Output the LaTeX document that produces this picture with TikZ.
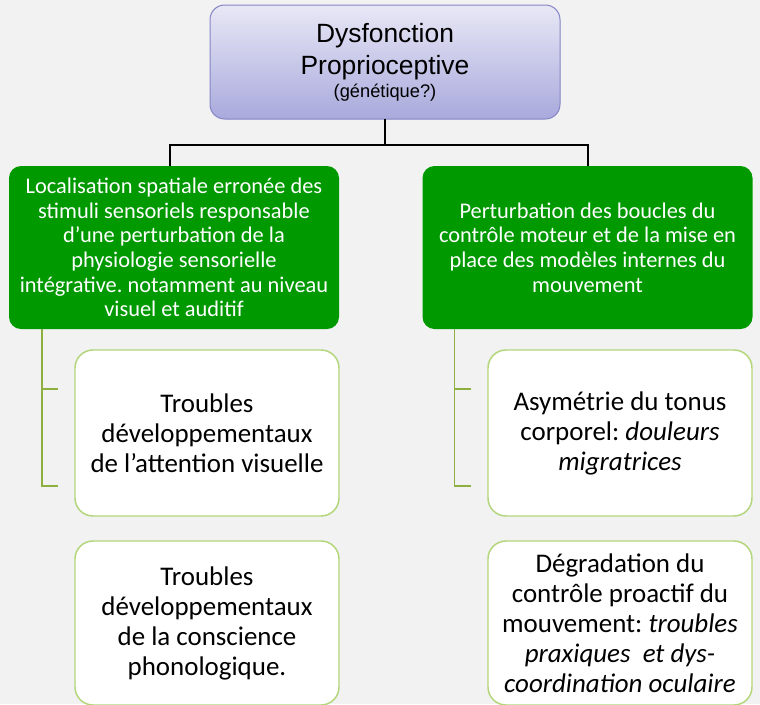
\documentclass[tikz,border=0pt]{standalone}
\usepackage{fontspec}
\setmainfont{Carlito}
\newfontfamily\rootfont{Liberation Sans}
\usetikzlibrary{positioning}
\frenchspacing

\definecolor{bgcol}{HTML}{F2F2F2}
\definecolor{roottop}{HTML}{E8E8F6}
\definecolor{rootbot}{HTML}{A9A9DD}
\definecolor{rootedge}{HTML}{8585C6}
\definecolor{causegreen}{HTML}{009900}
\definecolor{effectedge}{HTML}{B3D67A}
\definecolor{branchline}{HTML}{8DB040}

\begin{document}
\begin{tikzpicture}[x=0.75pt,y=-0.75pt,
  rootbox/.style={rectangle, rounded corners=11pt, draw=rootedge, line width=0.75pt, top color=roottop, bottom color=rootbot, minimum width=262.5pt, minimum height=85.5pt, inner sep=0pt, outer sep=0pt, align=center, font=\rootfont\fontsize{19.8}{24}\selectfont},
  causebox/.style={rectangle, rounded corners=9pt, fill=causegreen, text=white, minimum width=247.5pt, minimum height=122.25pt, inner sep=0pt, outer sep=0pt, align=center, font=\fontsize{16.8}{18.4}\selectfont},
  effectbox/.style={rectangle, rounded corners=13.5pt, draw=effectedge, line width=1.1pt, fill=white, minimum width=198pt, minimum height=124.5pt, inner sep=0pt, outer sep=0pt, align=center, font=\fontsize{20.2}{22.5}\selectfont},
  trunk/.style={draw=black, line width=1.5pt},
  branch/.style={draw=branchline, line width=0.9pt}]
\useasboundingbox[fill=bgcol] (0,0) rectangle (760,704);

\node[rootbox] (root) at (385,62) {Dysfonction\\Proprioceptive\\[-6.75pt]{\fontsize{13.7}{16}\selectfont(génétique?)}};

\node[causebox] (spatial) at (174,247.5) {Localisation spatiale erronée des\\stimuli sensoriels responsable\\d’une perturbation de la\\physiologie sensorielle\\intégrative. notamment au niveau\\visuel et auditif};
\node[causebox] (motor) at (587.5,247.5) {Perturbation des boucles du\\contrôle moteur et de la mise en\\place des modèles internes du\\mouvement};

\node[effectbox] (attention) at (207,433) {Troubles\\développementaux\\de l’attention visuelle};
\node[effectbox, minimum height=123pt, below=18.75pt of attention] (phono) {Troubles\\développementaux\\de la conscience\\phonologique.};
\node[effectbox] (tonus) at (620,433) {Asymétrie du tonus\\corporel: \textit{douleurs}\\\textit{migratrices}};
\node[effectbox, minimum height=123pt, below=18.75pt of tonus] (proactif) {Dégradation du\\contrôle proactif du\\mouvement: \textit{troubles}\\\textit{praxiques\ \ et dys-}\\\textit{coordination oculaire}};

\draw[trunk] (root.south) -- ++(0,26) -| ([xshift=-3pt]spatial.north);
\draw[trunk] (root.south) -- ++(0,26) -| (motor.north);

\coordinate (spatialA) at (58,389);
\coordinate (spatialB) at (58,486);
\coordinate (motorA) at (471,389);
\coordinate (motorB) at (471,486);
\draw[branch] ([xshift=24.75pt]spatial.south west) |- (spatialA);
\draw[branch] ([xshift=24.75pt]spatial.south west) |- (spatialB);
\draw[branch] ([xshift=24pt]motor.south west) |- (motorA);
\draw[branch] ([xshift=24pt]motor.south west) |- (motorB);
\end{tikzpicture}
\end{document}
